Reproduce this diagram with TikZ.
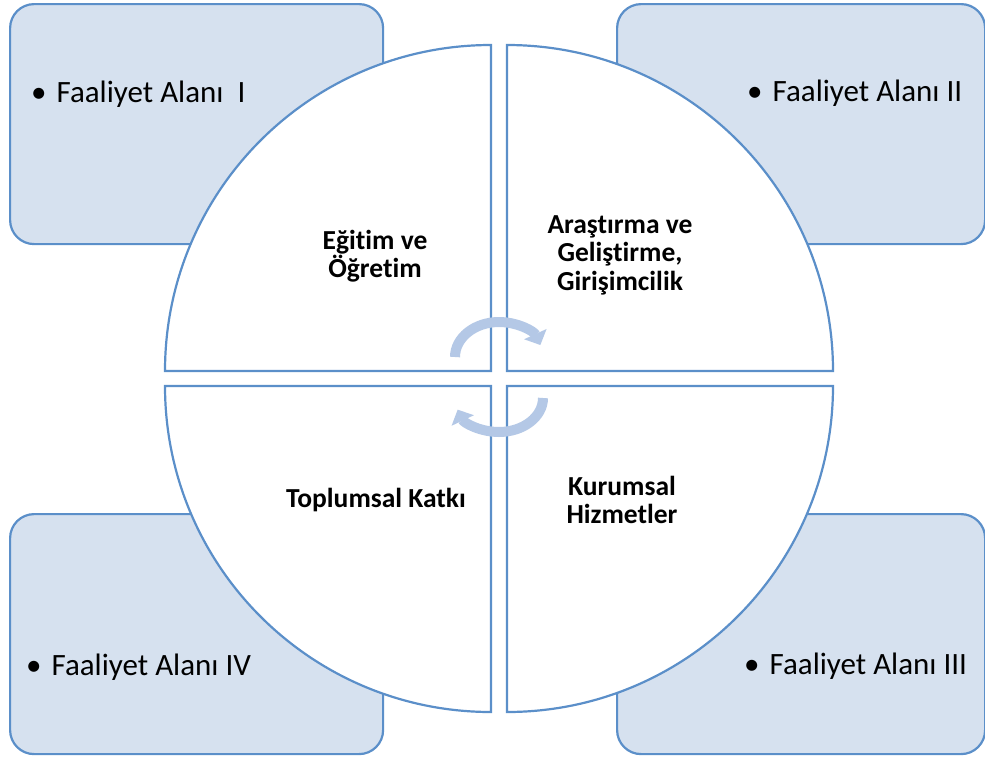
\documentclass[tikz,border=0pt]{standalone}
\usepackage{fontspec}
\setmainfont{Carlito}[Ligatures=CommonOff]
\usetikzlibrary{arrows.meta}

\definecolor{lineblue}{HTML}{5B8FC9}
\definecolor{boxfill}{HTML}{D6E1EF}
\definecolor{arrowblue}{HTML}{B4C8E6}

\newcommand{\madde}{•\hspace{10pt}}

\begin{document}
\begin{tikzpicture}[x=1pt, y=-1pt,
    alan/.style={draw=lineblue, line width=2.2pt, fill=boxfill, rounded corners=24pt,
                 minimum width=373pt, minimum height=240pt, anchor=north west, inner sep=0pt},
    alantext/.style={anchor=base west, font=\fontsize{31}{37}\selectfont, inner sep=0pt},
    dilim/.style={draw=lineblue, line width=2.2pt, fill=white},
    dilimtext/.style={align=center, font=\fontsize{27.5}{28.5}\selectfont\bfseries},
    donus/.style={draw=arrowblue, line width=10pt, -{Triangle[width=24pt,length=12pt]}}]
      \useasboundingbox (0,0) rectangle (985,758);

      % Faaliyet alanlari
      \node[alan] (alan1) at (9,3) {};
      \node[alan, minimum width=368pt] (alan2) at (616,3) {};
      \node[alan, minimum width=368pt] (alan3) at (616,513) {};
      \node[alan] (alan4) at (9,513) {};
      \node[alantext] (t1) at (31,102) {\madde Faaliyet Alanı\ \ I};
      \node[alantext] (t2) at (747,101) {\madde Faaliyet Alanı II};
      \node[alantext] (t3) at (744,674) {\madde Faaliyet Alanı III};
      \node[alantext] (t4) at (26,675) {\madde Faaliyet Alanı IV};

      % Daire dilimleri
      \draw[dilim] (491,371) -- (165,371) arc[start angle=180, end angle=270, radius=326] -- cycle;
      \draw[dilim] (507,371) -- (507,45) arc[start angle=270, end angle=360, radius=326] -- cycle;
      \draw[dilim] (507,386) -- (833,386) arc[start angle=0, end angle=90, radius=326] -- cycle;
      \draw[dilim] (491,386) -- (491,712) arc[start angle=90, end angle=180, radius=326] -- cycle;

      \node[dilimtext] (egitim) at (375,256) {Eğitim ve\\Öğretim};
      \node[dilimtext] (arge) at (620,255) {Araştırma ve\\Geliştirme,\\Girişimcilik};
      \node[dilimtext] (toplum) at (376,500) {Toplumsal Katkı};
      \node[dilimtext] (kurum) at (622,500) {Kurumsal\\Hizmetler};

      % Donus oklari
      \draw[donus] (455,357) arc[start angle=180, end angle=340, x radius=44, y radius=35];
      \draw[donus] (543,398) arc[start angle=0, end angle=160, x radius=44, y radius=34];
\end{tikzpicture}
\end{document}
